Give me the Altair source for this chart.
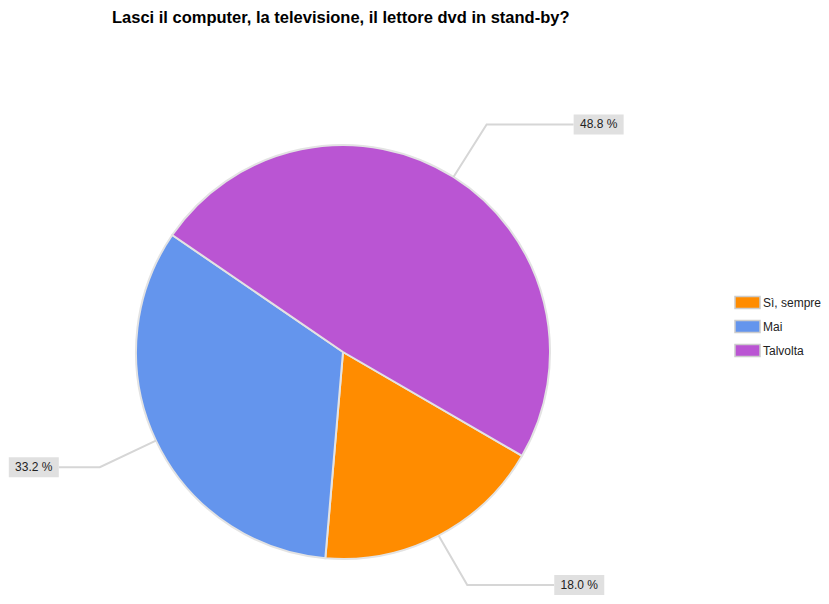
import math
import altair as alt
import pandas as pd

# ---- data ----
categories = ["Sì, sempre", "Mai", "Talvolta"]
percentages = [18.0, 33.2, 48.8]
label_texts = ["18.0 %", "33.2 %", "48.8 %"]
colors = ["#FF8C00", "#6495ED", "#BA55D3"]
title_text = "Lasci il computer, la televisione, il lettore dvd in stand-by?"

# ---- layout (pixels) ----
W, H = 813, 588
CX, CY = 335, 344
R = 207
START = math.radians(120.1)
ELBOW = 1.3
LEAD_RIGHT = 87 / R
LEAD_LEFT = 41 / R
BOX_W = 50 / R
BOX_H = 20 / R
Y_MAX = (H - CY) / R - BOX_H / 2 - 1 / R   # keep label boxes inside the view

df = pd.DataFrame({"cat": categories, "pct": percentages, "idx": list(range(len(categories)))})

# leader lines / label boxes computed from slice mid-angles
total = sum(percentages)
line_rows, box_rows = [], []
cum = 0.0
for cat, p, lab in zip(categories, percentages, label_texts):
    mid = START + 2 * math.pi * (cum + p / 2) / total
    cum += p
    ex, ey = math.sin(mid), -math.cos(mid)
    bx, by = ELBOW * ex, min(ELBOW * ey, Y_MAX)
    right = ex >= 0
    endx = bx + (LEAD_RIGHT if right else -LEAD_LEFT)
    for step, (x, y) in enumerate([(ex, ey), (bx, by), (endx, by)]):
        line_rows.append({"cat": cat, "step": step, "x": x, "y": y})
    x0 = endx if right else endx - BOX_W
    box_rows.append({"cat": cat, "label": lab, "x0": x0, "x1": x0 + BOX_W,
                     "xc": x0 + BOX_W / 2, "y0": by - BOX_H / 2, "y1": by + BOX_H / 2, "yc": by})

lines_df = pd.DataFrame(line_rows)
box_df = pd.DataFrame(box_rows)

xscale = alt.Scale(domain=[-CX / R, (W - CX) / R], range=[0, W], zero=False, nice=False)
yscale = alt.Scale(domain=[-CY / R, (H - CY) / R], range=[0, H], zero=False, nice=False)

legend = alt.Legend(
    orient="none", legendX=726, legendY=281, title=None,
    symbolType="M-1,-0.48H1V0.48H-1Z", symbolSize=625,
    symbolStrokeColor="#cccccc", symbolStrokeWidth=1.5, symbolOpacity=1,
    labelFont="Liberation Sans", labelFontSize=12, labelColor="#222222",
    labelOffset=2, rowPadding=1, padding=0, labelLimit=200,
)

pie = alt.Chart(df).mark_arc(outerRadius=R, stroke="#e3e3e3", strokeWidth=2).encode(
    theta=alt.Theta("pct:Q", stack=True, scale=alt.Scale(range=[START, START + 2 * math.pi])),
    color=alt.Color("cat:N", scale=alt.Scale(domain=categories, range=colors), legend=legend),
    order=alt.Order("idx:Q"),
    x=alt.value(CX),
    y=alt.value(CY),
)

lines = alt.Chart(lines_df).mark_line(color="#d6d6d6", strokeWidth=2).encode(
    x=alt.X("x:Q", scale=xscale, axis=None),
    y=alt.Y("y:Q", scale=yscale, axis=None),
    detail="cat:N",
    order="step:Q",
)

boxes = alt.Chart(box_df).mark_rect(fill="#e0e0e0").encode(
    x=alt.X("x0:Q", scale=xscale, axis=None), x2="x1:Q",
    y=alt.Y("y0:Q", scale=yscale, axis=None), y2="y1:Q",
)

texts = alt.Chart(box_df).mark_text(
    font="Liberation Sans", fontSize=12, color="#222222", baseline="middle", align="center"
).encode(
    x=alt.X("xc:Q", scale=xscale, axis=None),
    y=alt.Y("yc:Q", scale=yscale, axis=None),
    text="label:N",
)

chart = alt.layer(pie, lines, boxes, texts).properties(
    width=W, height=H, autosize="none", padding=0,
    title=alt.Title(title_text, anchor="start", font="Liberation Sans", fontSize=16.5,
                    fontWeight="bold", color="#000000", baseline="alphabetic",
                    offset=-17, dx=104, dy=14),
).configure_view(stroke=None)

chart.save("out.html", embed_options={"renderer": "svg", "actions": False})
